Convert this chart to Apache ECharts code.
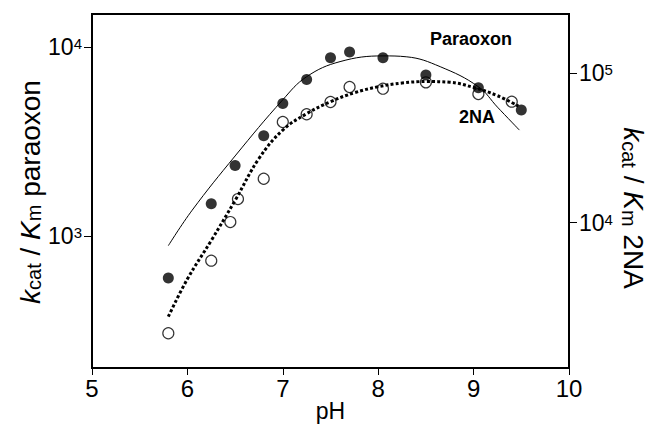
<!DOCTYPE html>
<html>
<head>
<meta charset="utf-8">
<script src="https://cdn.jsdelivr.net/npm/echarts@6/dist/echarts.min.js"></script>
<style>
  html, body { margin: 0; padding: 0; background: #fff; }
  #chart { width: 648px; height: 424px; }
</style>
</head>
<body>
<div id="chart"></div>
<script>
// measured points, kcat/Km paraoxon (left axis)
var phParaoxon = [5.8, 6.25, 6.5, 6.8, 7.0, 7.25, 7.5, 7.7, 8.05, 8.5, 9.05, 9.5];
var kParaoxon = [600, 1480, 2360, 3390, 5020, 6720, 8750, 9380, 8750, 7090, 6070, 4630];

// measured points, kcat/Km 2NA (right axis)
var ph2NA = [5.8, 6.25, 6.45, 6.53, 6.8, 7.0, 7.25, 7.5, 7.7, 8.05, 8.5, 9.05, 9.4];
var k2NA = [1820, 5570, 10100, 14400, 19700, 47200, 53200, 64300, 81000, 78900, 87000, 72700, 64600];

// fitted curves
var fitParaoxonPh = [5.8, 6.05, 6.5, 7.0, 7.25, 7.6, 8.05, 8.3, 8.65, 9.05, 9.25, 9.48];
var fitParaoxon = [890, 1370, 2650, 5250, 6950, 8350, 8950, 8850, 7850, 6150, 4800, 3630];

var fit2NAPh = [5.8, 6.0, 6.25, 6.5, 6.75, 7.0, 7.25, 7.5, 7.75, 8.0, 8.25, 8.5, 8.75, 9.0, 9.25, 9.47];
var fit2NA = [2350, 4200, 7600, 14100, 26900, 41700, 53700, 64600, 74100, 81300, 86100, 88100, 87100, 80400, 70800, 60300];

// tick labels
var xTicks = [5, 6, 7, 8, 9, 10];
var leftTicks = [1000, 10000];
var rightTicks = [10000, 100000];

var font = 'Liberation Sans';

function zip(xs, ys) {
    return xs.map(function (x, i) { return [x, ys[i]]; });
}

function pow10(v) {
    return '10{sup|' + Math.round(Math.log10(v)) + '}';
}

var nameRich = {
    i: { fontFamily: font, fontSize: 28, fontStyle: 'italic', color: '#000' },
    s: { fontFamily: font, fontSize: 20, lineHeight: 10, verticalAlign: 'bottom', color: '#000' }
};

var labelRich = {
    sup: { fontFamily: font, fontSize: 15, lineHeight: 10, verticalAlign: 'top', color: '#000' }
};

var myChart = echarts.init(document.getElementById('chart'), null, { renderer: 'svg' });

var option = {
    animation: false,
    backgroundColor: '#fff',
    grid: {
        left: 92, right: 79, top: 14, bottom: 56,
        outerBoundsMode: 'none',
        show: true, borderColor: '#000', borderWidth: 2
    },
    xAxis: {
        type: 'value', min: 5, max: 10, interval: 1,
        name: 'pH', nameLocation: 'middle', nameGap: 31, nameMoveOverlap: false,
        nameTextStyle: { fontFamily: font, fontSize: 23, color: '#000' },
        axisLine: { show: true, lineStyle: { color: '#000', width: 2 } },
        axisTick: { show: true, length: 7, customValues: xTicks, lineStyle: { color: '#000', width: 1 } },
        axisLabel: { customValues: xTicks, fontFamily: font, fontSize: 24, color: '#000', margin: 8 },
        splitLine: { show: false }
    },
    yAxis: [{
        type: 'log', logBase: 10, min: 201, max: 14900, position: 'left',
        name: '{i|k}{s|cat} / {i|K}{s|m} paraoxon',
        nameLocation: 'middle', nameGap: 48, nameRotate: 90, nameMoveOverlap: false,
        nameTextStyle: { fontFamily: font, fontSize: 28, color: '#000', rich: nameRich, padding: [0, 2, 0, 0] },
        axisLine: { show: true, onZero: false, lineStyle: { color: '#000', width: 2 } },
        axisTick: { show: true, length: 8, customValues: leftTicks, lineStyle: { color: '#000', width: 1 } },
        axisLabel: {
            customValues: leftTicks, formatter: pow10, margin: 10,
            fontFamily: font, fontSize: 23, lineHeight: 22, color: '#000', rich: labelRich
        },
        splitLine: { show: false },
        minorTick: { show: false }
    }, {
        type: 'log', logBase: 10, min: 1065, max: 249500, position: 'right',
        name: '{i|k}{s|cat} / {i|K}{s|m} 2NA',
        nameLocation: 'middle', nameGap: 50, nameRotate: -90, nameMoveOverlap: false,
        nameTextStyle: { fontFamily: font, fontSize: 28, color: '#000', rich: nameRich, padding: [0, 0, 0, 34] },
        axisLine: { show: true, onZero: false, lineStyle: { color: '#000', width: 2 } },
        axisTick: { show: true, length: 8, customValues: rightTicks, lineStyle: { color: '#000', width: 1 } },
        axisLabel: {
            customValues: rightTicks, formatter: pow10, margin: 10,
            fontFamily: font, fontSize: 23, lineHeight: 22, color: '#000', rich: labelRich
        },
        splitLine: { show: false },
        minorTick: { show: false }
    }],
    graphic: [{
        type: 'text', left: 430, top: 30,
        style: { text: 'Paraoxon', font: 'bold 18px "Liberation Sans"', fill: '#000' }
    }, {
        type: 'text', left: 459, top: 108,
        style: { text: '2NA', font: 'bold 18px "Liberation Sans"', fill: '#000' }
    }],
    series: [{
        name: 'Paraoxon fit',
        type: 'line', yAxisIndex: 0,
        data: zip(fitParaoxonPh, fitParaoxon),
        smooth: 0.4, symbol: 'none',
        lineStyle: { color: '#000', width: 1 },
        z: 2
    }, {
        name: '2NA fit',
        type: 'line', yAxisIndex: 1,
        data: zip(fit2NAPh, fit2NA),
        smooth: 0.4, symbol: 'none',
        lineStyle: { color: '#000', width: 3, type: [3, 2.2], cap: 'butt' },
        z: 2
    }, {
        name: '2NA',
        type: 'scatter', yAxisIndex: 1,
        data: zip(ph2NA, k2NA),
        symbol: 'circle', symbolSize: 11,
        itemStyle: { color: 'rgba(0,0,0,0)', borderColor: '#000', borderWidth: 1.2 },
        z: 3
    }, {
        name: 'Paraoxon',
        type: 'scatter', yAxisIndex: 0,
        data: zip(phParaoxon, kParaoxon),
        symbol: 'circle', symbolSize: 11,
        itemStyle: { color: '#000' },
        z: 4
    }]
};

myChart.setOption(option);
</script>
</body>
</html>
